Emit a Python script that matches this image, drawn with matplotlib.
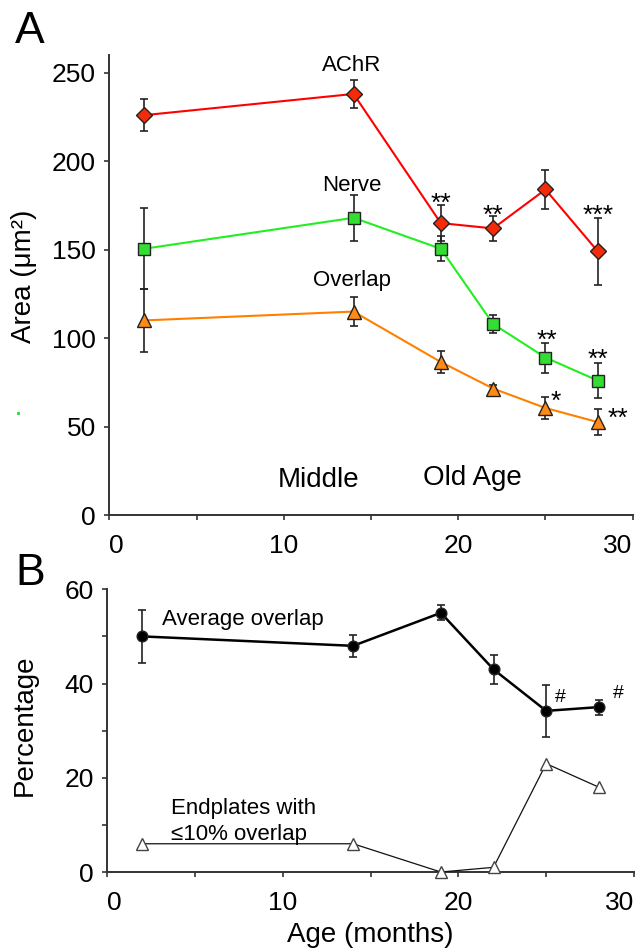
import numpy as np
import matplotlib
matplotlib.use("Agg")
import matplotlib.pyplot as plt
from matplotlib.ticker import MultipleLocator
from matplotlib.lines import Line2D

plt.rcParams['font.family'] = ['Liberation Sans', 'DejaVu Sans']

# ages (months)
age = [2, 14, 19, 22, 25, 28]

# Panel A - areas (um^2), mean and error
achr = [226, 238, 165, 162, 184, 149]
achr_err = [9, 8, 10, 7, 11, 19]
nerve = [150.5, 168, 150.5, 108, 89, 76]
nerve_err = [23, 13, 7, 5, 8.5, 10]
overlap = [110, 115, 86.5, 71.5, 60.5, 52.5]
overlap_err = [18, 8, 6, 2, 6, 7.5]

# Panel B - percentages
avg_overlap = [50, 48, 55, 43, 34.2, 35]
avg_overlap_err = [5.6, 2.3, 1.6, 3, 5.5, 1.6]
low_overlap = [6, 6, 0, 1, 23, 18]

x_ticks = [0, 10, 20, 30]

EDGE = '#222222'
AXC = '#333333'


def style(ax):
    for s in ['top', 'right']:
        ax.spines[s].set_visible(False)
    for s in ['left', 'bottom']:
        ax.spines[s].set_linewidth(1.4)
        ax.spines[s].set_color(AXC)
    ax.tick_params(which='both', direction='out', length=3.5, width=1.2,
                   color=AXC, labelsize=19)
    ax.tick_params(axis='x', which='both', pad=10.5)
    ax.tick_params(axis='y', which='both', pad=6)
    ax.set_xlim(0, 30)
    ax.set_xticks(x_ticks)
    ax.xaxis.set_minor_locator(MultipleLocator(5))
    # end labels sit inside the axis ends, as in the original
    labs = ax.get_xticklabels()
    labs[0].set_ha('left')
    labs[-1].set_ha('right')


def series(ax, y, yerr, color, marker, ms, face, lw=1.5):
    ax.errorbar(age, y, yerr=yerr, fmt='none', ecolor=EDGE, elinewidth=1.2,
                capsize=3, capthick=1.2, zorder=2, clip_on=False)
    ax.plot(age, y, color=color, lw=lw, marker=marker, ms=ms, mfc=face,
            mec=EDGE, mew=1.0, zorder=3, clip_on=False)


fig = plt.figure(figsize=(6.38, 9.52), dpi=100)

# ---- Panel A ----
axA = fig.add_axes([0.1713, 0.4590, 0.8204, 0.4832])
style(axA)
axA.set_ylim(0, 260)
axA.yaxis.set_major_locator(MultipleLocator(50))

series(axA, achr, achr_err, '#ff0000', 'D', 8.5, '#f42a08')
series(axA, nerve, nerve_err, '#22ee22', 's', 9, '#33dd33')
series(axA, overlap, overlap_err, '#ff8000', '^', 10.5, '#ff8a14')

axA.text(13.9, 251, 'AChR', fontsize=16, ha='center', va='baseline')
axA.text(13.9, 183.3, 'Nerve', fontsize=16, ha='center', va='baseline')
axA.text(13.9, 129.3, 'Overlap', fontsize=16, ha='center', va='baseline')
axA.text(12.0, 16.1, 'Middle', fontsize=20, ha='center', va='baseline')
axA.text(20.8, 17.2, 'Old Age', fontsize=20, ha='center', va='baseline')

star_kw = dict(fontsize=19, ha='center', va='baseline')
axA.text(19.0, 172.0, '**', **star_kw)
axA.text(22.0, 165.4, '**', **star_kw)
axA.text(28.0, 165.4, '***', **star_kw)
axA.text(25.06, 94.6, '**', **star_kw)
axA.text(28.0, 83.7, '**', **star_kw)
axA.text(25.6, 60.0, '*', **star_kw)
axA.text(29.17, 50.4, '**', **star_kw)

axA.set_ylabel('Area (\u03bcm\u00b2)', fontsize=20)
axA.yaxis.set_label_coords(-0.138, 0.518)

# ---- Panel B ----
axB = fig.add_axes([0.1682, 0.0840, 0.8255, 0.2970])
style(axB)
axB.set_ylim(0, 60)
axB.yaxis.set_major_locator(MultipleLocator(20))
axB.yaxis.set_minor_locator(MultipleLocator(10))

series(axB, avg_overlap, avg_overlap_err, '#000000', 'o', 7.7, '#000000', lw=1.8)
axB.plot(age, low_overlap, color='#111111', lw=0.9, marker='^', ms=8.8,
         mfc='white', mec='#444444', mew=1.0, zorder=3, clip_on=False)

axB.text(3.13, 52.5, 'Average overlap', fontsize=16, ha='left', va='baseline')
axB.text(3.6, 12.4, 'Endplates with', fontsize=16, ha='left', va='baseline')
axB.text(3.6, 6.75, '\u226410% overlap', fontsize=16, ha='left', va='baseline')
axB.text(25.82, 36.0, '#', fontsize=14, ha='center', va='baseline')
axB.text(29.1, 36.9, '#', fontsize=14, ha='center', va='baseline')

axB.set_xlabel('Age (months)', fontsize=20, labelpad=4.5)
axB.set_ylabel('Percentage', fontsize=20)
axB.yaxis.set_label_coords(-0.132, 0.52)

# panel letters
fig.text(15 / 638, 1 - 43 / 952, 'A', fontsize=32, ha='left', va='baseline')
fig.text(15 / 638, 1 - 585 / 952, 'B', fontsize=32, ha='left', va='baseline')

# stray green speck seen in the original figure
fig.add_artist(Line2D([18 / 638], [1 - 413 / 952], marker='s', ms=1.2,
                      color='#33dd33', lw=0, transform=fig.transFigure))

fig.savefig('out.png', dpi=100)
